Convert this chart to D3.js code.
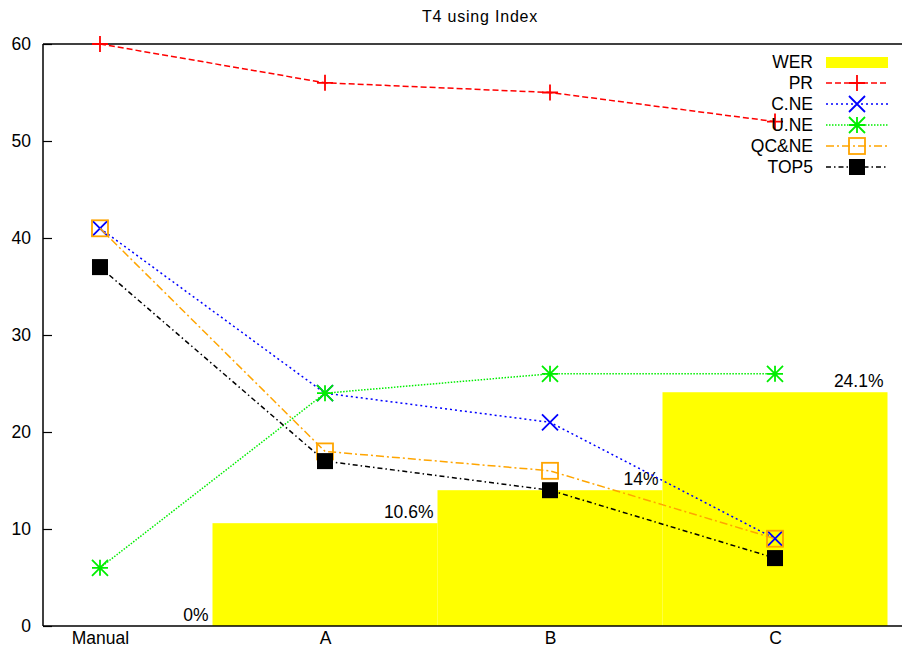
<!DOCTYPE html>
<html>
<head>
<meta charset="utf-8">
<script src="https://cdn.jsdelivr.net/npm/d3@7"></script>
<style>
  body { margin: 0; background: #fff; }
  text { font-family: "Liberation Sans", Arial, sans-serif; fill: #000; }
</style>
</head>
<body>
<div id="chart"></div>
<script>
// data
var categories = ["Manual", "A", "B", "C"];
var werValues = [0, 10.6, 14, 24.1];
var werLabels = ["0%", "10.6%", "14%", "24.1%"];
var prValues = [60, 56, 55, 52];
var cneValues = [41, 24, 21, 9];
var uneValues = [6, 24, 26, 26];
var qcneValues = [41, 18, 16, 9];
var top5Values = [37, 17, 14, 7];
var yTicks = [0, 10, 20, 30, 40, 50, 60];

var series = [
  { name: "PR", values: prValues, color: "#ff0000", dash: "6,3", marker: "plus" },
  { name: "C.NE", values: cneValues, color: "#0000ff", dash: "2,3", marker: "cross" },
  { name: "U.NE", values: uneValues, color: "#00ee00", dash: "1.5,1.5", marker: "star" },
  { name: "QC&NE", values: qcneValues, color: "#ffa500", dash: "8,3,2,3", marker: "square" },
  { name: "TOP5", values: top5Values, color: "#000000", dash: "5,3,1.5,3", marker: "fsquare" }
];

function drawChart() {
  var svgWidth = 902;
  var svgHeight = 650;
  var plotLeft = 43, plotRight = 902, plotTop = 44, plotBottom = 626;
  var fontSize = "17.5px";

  var svg = d3.select("#chart")
    .append("svg")
    .attr("width", svgWidth)
    .attr("height", svgHeight);

  var x = d3.scaleLinear()
    .domain([-0.2533, 3.5644])
    .range([plotLeft, plotRight]);

  var y = d3.scaleLinear()
    .domain([0, 60])
    .range([plotBottom, plotTop]);

  // title
  svg.append("text")
    .attr("x", 480)
    .attr("y", 22)
    .attr("text-anchor", "middle")
    .attr("font-size", "16px")
    .attr("letter-spacing", "0.8px")
    .text("T4 using Index");

  // WER bars
  svg.selectAll(".bar")
    .data(werValues)
    .enter()
    .append("rect")
    .attr("class", "bar")
    .attr("x", (d, i) => x(i - 0.5))
    .attr("width", (d, i) => x(i + 0.5) - x(i - 0.5))
    .attr("y", d => y(d))
    .attr("height", d => y(0) - y(d))
    .attr("fill", "#ffff00");

  svg.selectAll(".barLabel")
    .data(werValues)
    .enter()
    .append("text")
    .attr("class", "barLabel")
    .attr("x", (d, i) => x(i + 0.5) - 4)
    .attr("y", d => y(d) - 5)
    .attr("text-anchor", "end")
    .attr("font-size", fontSize)
    .text((d, i) => werLabels[i]);

  // y axis
  var leftAxis = d3.axisLeft(y)
    .tickValues(yTicks)
    .tickSize(-9)
    .tickPadding(12);

  var yAxis = svg.append("g")
    .attr("transform", `translate(${plotLeft}, 0)`)
    .call(leftAxis);
  yAxis.select(".domain").remove();
  yAxis.selectAll("line").attr("stroke", "#000").attr("stroke-width", 1.2);
  yAxis.selectAll("text").attr("font-size", fontSize).attr("font-family", "Liberation Sans, Arial, sans-serif");

  // x axis
  var bottomAxis = d3.axisBottom(x)
    .tickValues(d3.range(categories.length))
    .tickFormat(i => categories[i])
    .tickSize(0)
    .tickPadding(6);

  var xAxis = svg.append("g")
    .attr("transform", `translate(0, ${plotBottom})`)
    .call(bottomAxis);
  xAxis.select(".domain").remove();
  xAxis.selectAll("text").attr("font-size", fontSize).attr("font-family", "Liberation Sans, Arial, sans-serif");

  // borders
  svg.append("line").attr("x1", plotLeft).attr("x2", plotRight).attr("y1", plotTop).attr("y2", plotTop)
    .attr("stroke", "#000").attr("stroke-width", 1.5);
  svg.append("line").attr("x1", plotLeft).attr("x2", plotRight).attr("y1", plotBottom).attr("y2", plotBottom)
    .attr("stroke", "#000").attr("stroke-width", 1.5);
  svg.append("line").attr("x1", plotLeft).attr("x2", plotLeft).attr("y1", plotTop).attr("y2", plotBottom)
    .attr("stroke", "#000").attr("stroke-width", 1.5);

  // markers
  function drawMarker(g, type, color, cx, cy) {
    var s = 8;
    if (type === "plus") {
      g.append("path")
        .attr("d", `M${cx - s},${cy}H${cx + s}M${cx},${cy - s}V${cy + s}`)
        .attr("stroke", color).attr("stroke-width", 1.8).attr("fill", "none");
    } else if (type === "cross") {
      g.append("path")
        .attr("d", `M${cx - s},${cy - s}L${cx + s},${cy + s}M${cx - s},${cy + s}L${cx + s},${cy - s}`)
        .attr("stroke", color).attr("stroke-width", 1.8).attr("fill", "none");
    } else if (type === "star") {
      g.append("path")
        .attr("d", `M${cx - s},${cy}H${cx + s}M${cx},${cy - s}V${cy + s}` +
          `M${cx - s},${cy - s}L${cx + s},${cy + s}M${cx - s},${cy + s}L${cx + s},${cy - s}`)
        .attr("stroke", color).attr("stroke-width", 1.8).attr("fill", "none");
    } else if (type === "square") {
      g.append("rect")
        .attr("x", cx - s).attr("y", cy - s).attr("width", 2 * s).attr("height", 2 * s)
        .attr("stroke", color).attr("stroke-width", 1.8).attr("fill", "none");
    } else if (type === "fsquare") {
      g.append("rect")
        .attr("x", cx - s).attr("y", cy - s).attr("width", 2 * s).attr("height", 2 * s)
        .attr("fill", color);
    }
  }

  var line = d3.line()
    .x((d, i) => x(i))
    .y(d => y(d));

  series.forEach(function(s) {
    var g = svg.append("g");
    g.append("path")
      .datum(s.values)
      .attr("d", line)
      .attr("fill", "none")
      .attr("stroke", s.color)
      .attr("stroke-width", 1.5)
      .attr("stroke-dasharray", s.dash);
    s.values.forEach(function(v, i) {
      drawMarker(g, s.marker, s.color, x(i), y(v));
    });
  });

  // legend
  var legendX = 813, legendY = 62, rowH = 21;
  var legend = svg.append("g");
  legend.append("text")
    .attr("x", legendX).attr("y", legendY)
    .attr("dy", "0.35em")
    .attr("text-anchor", "end")
    .attr("font-size", fontSize)
    .text("WER");
  legend.append("rect")
    .attr("x", 826).attr("y", legendY - 5)
    .attr("width", 62).attr("height", 11)
    .attr("fill", "#ffff00");

  series.forEach(function(s, k) {
    var ly = legendY + rowH * (k + 1);
    legend.append("text")
      .attr("x", legendX).attr("y", ly)
      .attr("dy", "0.35em")
      .attr("text-anchor", "end")
      .attr("font-size", fontSize)
      .text(s.name);
    legend.append("line")
      .attr("x1", 826).attr("x2", 888)
      .attr("y1", ly).attr("y2", ly)
      .attr("stroke", s.color)
      .attr("stroke-width", 1.5)
      .attr("stroke-dasharray", s.dash);
    drawMarker(legend, s.marker, s.color, 857, ly);
  });
}

drawChart();
</script>
</body>
</html>
